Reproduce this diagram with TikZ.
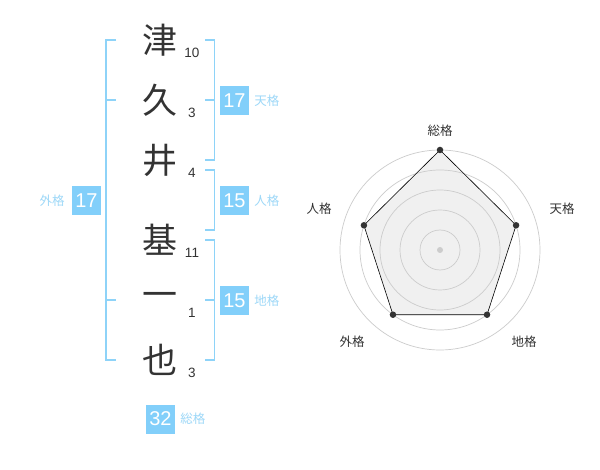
\documentclass[tikz,border=0pt]{standalone}
\usepackage{fontspec}
\usetikzlibrary{positioning}
\setmainfont{Liberation Sans}
\newfontfamily\jp{Noto Sans CJK JP}
\definecolor{kanji}{HTML}{333333}
\definecolor{boxblue}{HTML}{82CFFA}
\definecolor{lineblue}{HTML}{8ED3F8}
\definecolor{labelblue}{HTML}{9DD8F8}
\definecolor{ring}{HTML}{CCCCCC}
\definecolor{area}{HTML}{F0F0F0}
\begin{document}
\begin{tikzpicture}[
			x=1pt, y=-1pt,
			char/.style={font=\jp\fontsize{35}{35}\selectfont, text=kanji, inner sep=0pt},
			strokes/.style={font=\fontsize{13.5}{13.5}\selectfont, text=kanji, inner sep=0pt},
			score/.style={fill=boxblue, text=white, font=\fontsize{20}{20}\selectfont, minimum size=29pt, inner sep=0pt},
			kaku/.style={font=\jp\fontsize{12.5}{12.5}\selectfont, text=labelblue, inner sep=0pt},
			bracket/.style={draw=lineblue, line width=1.5pt},
			axis/.style={font=\jp\fontsize{12.5}{12.5}\selectfont, text=kanji, inner sep=0pt},
			dot/.style={circle, fill=kanji, inner sep=0pt, minimum size=6.5pt}
		]
		\fill[white] (0,0) rectangle (600,470);
		% name
		\node[char] (tsu) at (160,40) {津};
		\node[char] (ku) at (160,100) {久};
		\node[char] (i) at (160,160) {井};
		\node[char] (moto) at (160,240) {基};
		\node[char] (kazu) at (160,300) {一};
		\node[char] (ya) at (160,360) {也};
		\node[strokes] (s1) at (192,53) {10};
		\node[strokes] (s2) at (192,113) {3};
		\node[strokes] (s3) at (192,173) {4};
		\node[strokes] (s4) at (192,253) {11};
		\node[strokes] (s5) at (192,313) {1};
		\node[strokes] (s6) at (192,373) {3};
		% brackets
		\draw[bracket] (116,40) -- (106,40) -- (106,360) -- (116,360);
		\draw[bracket] (106,100) -- (116,100);
		\draw[bracket] (106,300) -- (116,300);
		\draw[bracket] (205,40) -- (214.5,40) -- (214.5,160) -- (205,160);
		\draw[bracket] (205,100) -- (214.5,100);
		\draw[bracket] (205,170) -- (214.5,170) -- (214.5,230) -- (205,230);
		\draw[bracket] (205,240) -- (214.5,240) -- (214.5,360) -- (205,360);
		\draw[bracket] (205,300) -- (214.5,300);
		% scores
		\node[score] (ten) at (234.5,100.5) {17};
		\node[kaku, right=5pt of ten] (tenl) {天格};
		\node[score] (jin) at (234.5,200.5) {15};
		\node[kaku, right=5pt of jin] (jinl) {人格};
		\node[score] (chi) at (234.5,300.5) {15};
		\node[kaku, right=5pt of chi] (chil) {地格};
		\node[score] (gai) at (86.5,200.5) {17};
		\node[kaku, left=7pt of gai] (gail) {外格};
		\node[score] (so) at (160.5,419) {32};
		\node[kaku, right=5pt of so] (sol) {総格};
		% radar
		\begin{scope}[shift={(440,250)}, yscale=-1]
			\coordinate (vso) at (90:100);
			\coordinate (vten) at (18:80);
			\coordinate (vchi) at (-54:80);
			\coordinate (vgai) at (-126:80);
			\coordinate (vjin) at (162:80);
			\fill[area] (vso) -- (vten) -- (vchi) -- (vgai) -- (vjin) -- cycle;
			\foreach \r in {20,40,...,100}
				\draw[ring, line width=0.7pt] (0,0) circle (\r);
			\draw[black, line width=0.6pt]
				(vso) -- (vten) -- (vchi) -- (vgai) -- (vjin) -- cycle;
			\node[circle, fill=ring, inner sep=0pt, minimum size=6pt] (mid) at (0,0) {};
			\foreach \v in {vso,vten,vchi,vgai,vjin}
				\node[dot] at (\v) {};
		\end{scope}
		\node[axis] (aso) at (440,131) {総格};
		\node[axis] (aten) at (562,209) {天格};
		\node[axis] (ajin) at (319,209) {人格};
		\node[axis] (agai) at (352,342) {外格};
		\node[axis] (achi) at (524,342) {地格};
	\end{tikzpicture}
\end{document}
